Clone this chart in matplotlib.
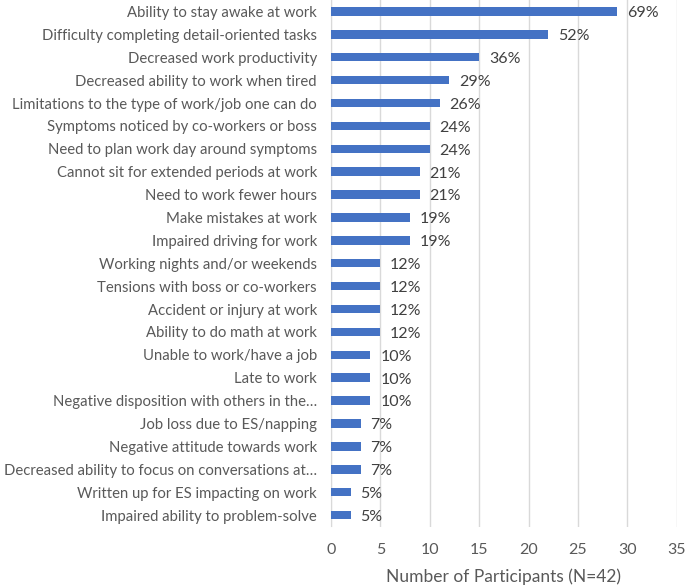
import matplotlib.pyplot as plt

plt.rcParams["font.family"] = ["Lato", "DejaVu Sans"]

labels = [
    "Ability to stay awake at work",
    "Difficulty completing detail-oriented tasks",
    "Decreased work productivity",
    "Decreased ability to work when tired",
    "Limitations to the type of work/job one can do",
    "Symptoms noticed by co-workers or boss",
    "Need to plan work day around symptoms",
    "Cannot sit for extended periods at work",
    "Need to work fewer hours",
    "Make mistakes at work",
    "Impaired driving for work",
    "Working nights and/or weekends",
    "Tensions with boss or co-workers",
    "Accident or injury at work",
    "Ability to do math at work",
    "Unable to work/have a job",
    "Late to work",
    "Negative disposition with others in the…",
    "Job loss due to ES/napping",
    "Negative attitude towards work",
    "Decreased ability to focus on conversations at…",
    "Written up for ES impacting on work",
    "Impaired ability to problem-solve",
]
counts = [29, 22, 15, 12, 11, 10, 10, 9, 9, 8, 8, 5, 5, 5, 5, 4, 4, 4, 3, 3, 3, 2, 2]
pct_labels = ["69%", "52%", "36%", "29%", "26%", "24%", "24%", "21%", "21%", "19%",
              "19%", "12%", "12%", "12%", "12%", "10%", "10%", "10%", "7%", "7%",
              "7%", "5%", "5%"]
x_ticks = [0, 5, 10, 15, 20, 25, 30, 35]

text_color = "#595959"
grid_color = "#D9D9D9"

fig = plt.figure(figsize=(6.85, 5.85), dpi=100)
ax = fig.add_axes([0.483, 0.1, 0.505, 0.9])

ypos = list(range(len(labels)))
ax.barh(ypos, counts, height=0.37, color="#4472C4", zorder=3)
for y, c, p in zip(ypos, counts, pct_labels):
    ax.text(c + 1.0, y + 0.08, p, va="center", ha="left", fontsize=11.5, color="#404040")

ax.set_xlim(0, 35)
ax.set_ylim(len(labels) - 0.5, -0.5)
ax.set_xticks(x_ticks)
ax.set_yticks(ypos)
ax.set_yticklabels(labels)
ax.grid(axis="x", color=grid_color, linewidth=1, zorder=0)
for s in ["top", "right", "bottom"]:
    ax.spines[s].set_visible(False)
ax.spines["left"].set_color(grid_color)
ax.tick_params(axis="both", length=0, colors=text_color)
ax.tick_params(axis="y", pad=10, labelsize=10.7)
ax.tick_params(axis="x", pad=12, labelsize=11.5)
ax.set_xlabel("Number of Participants (N=42)", fontsize=12.5, color=text_color, labelpad=8)

fig.savefig("out.png", dpi=100)
